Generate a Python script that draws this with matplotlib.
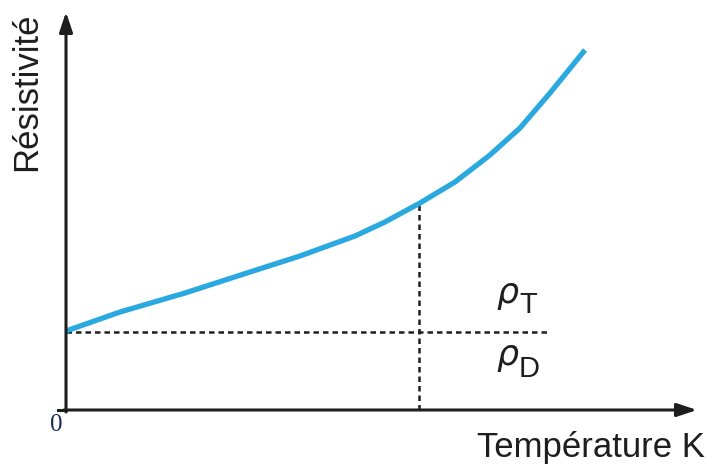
import numpy as np
import matplotlib.pyplot as plt

# values (arbitrary units)
temperature = [0, 54, 119, 184, 234, 289, 319, 354, 389, 424, 454, 484, 519]
resistivity = [79, 98, 117, 138, 154, 174, 188, 207, 228, 255, 282, 317, 360]
rho_d_level = 78
t_split = 353

plt.rcParams['font.family'] = ['Liberation Sans', 'DejaVu Sans']

fig = plt.figure(figsize=(7.08, 4.65), dpi=100)
ax = fig.add_axes([0, 0, 1, 1])
ax.set_xlim(-66, 642)
ax.set_ylim(-55, 410)
ax.axis('off')

axis_col = '#1e1e1e'
# axes with arrows
ax.annotate('', xy=(631, 0), xytext=(-2, 0),
            arrowprops=dict(arrowstyle='-|>,head_length=1.2,head_width=0.4',
                            color=axis_col, lw=2.2, shrinkA=0, shrinkB=0))
ax.annotate('', xy=(0, 398), xytext=(0, -2),
            arrowprops=dict(arrowstyle='-|>,head_length=1.2,head_width=0.4',
                            color=axis_col, lw=2.2, shrinkA=0, shrinkB=0))
ax.plot([-8, 0], [0, 0], color=axis_col, lw=2.2)

# dashed guides
ax.plot([0, 484], [rho_d_level, rho_d_level], color=axis_col, lw=1.8,
        linestyle=(0, (2.2, 1.6)))
ax.plot([t_split, t_split], [0, np.interp(t_split, temperature, resistivity)],
        color=axis_col, lw=1.8, linestyle=(0, (2.2, 1.6)))

# curve
ax.plot(temperature, resistivity, color='#2aa8e0', lw=3.8, solid_capstyle='butt')

ax.text(-10, -15, '0', family='Liberation Serif', fontsize=18, color='#1a2a5a',
        ha='center', va='center')
ax.text(639, -37, 'Température K', fontsize=25, color=axis_col, ha='right', va='center')
ax.text(-39, 318, 'Résistivité', fontsize=25, color=axis_col, rotation=90,
        ha='center', va='center')

# rho labels: italic rho plus upright subscript
for sub, yc, yb in [('T', 115, 97), ('D', 52, 33)]:
    ax.text(430, yc, r'$\rho$', fontsize=25, color=axis_col, ha='left', va='center')
    ax.text(453, yb, sub, fontsize=21, color=axis_col, ha='left', va='baseline')

fig.savefig('out.png', dpi=100)
